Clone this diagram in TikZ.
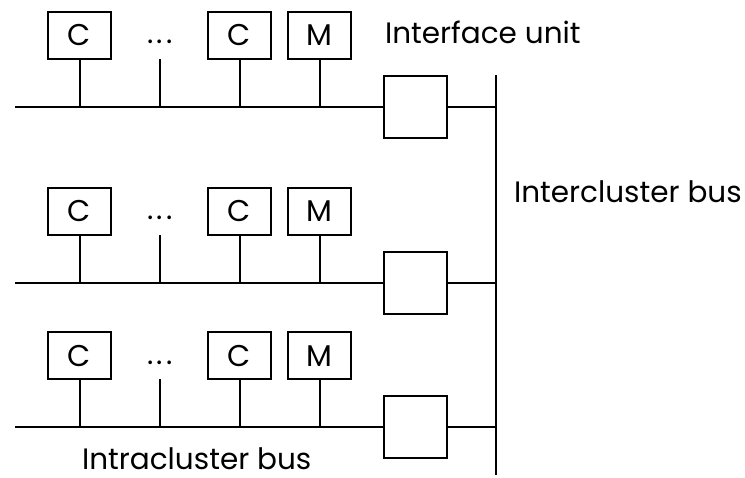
\documentclass[tikz,border=0pt]{standalone}
\usepackage{fontspec}
\setmainfont{Poppins}
\newcommand{\lblfont}{\fontsize{29.5}{29.5}\selectfont}
\newcommand{\boxfont}{\fontsize{30}{30}\selectfont}
\begin{document}
\begin{tikzpicture}[x=1pt,y=-1pt,line width=2pt,
  box/.style={draw,minimum width=63pt,minimum height=47pt,inner sep=0pt,font=\boxfont},
  iface/.style={draw,minimum width=63pt,minimum height=62pt,inner sep=0pt},
  lbl/.style={anchor=base west,inner sep=0pt,font=\lblfont}]
\useasboundingbox (0,0) rectangle (745,478);
\foreach \r/\b in {1/107,2/283,3/427.5} {
  \node[box] (ca\r) at (79.5,\b-71.5) {C};
  \node[box] (cb\r) at (239.5,\b-71.5) {C};
  \node[box] (m\r) at (319.5,\b-71.5) {M};
  \node[inner sep=0pt,font=\boxfont] (dots\r) at (160,\b-65) {.\hspace{3pt}.\hspace{3pt}.};
  \node[iface] (u\r) at (415.5,\b) {};
  \coordinate (bl\r) at (15,\b);
  \coordinate (br\r) at (496,\b);
  \coordinate (ds\r) at (160,\b-48);
  \draw (bl\r) -- (u\r.west);
  \draw (u\r.east) -- (br\r);
  \draw (ca\r.south) -- (ca\r.south |- bl\r);
  \draw (ds\r) -- (ds\r |- bl\r);
  \draw (cb\r.south) -- (cb\r.south |- bl\r);
  \draw (m\r.south) -- (m\r.south |- bl\r);
}
\coordinate (vt) at (496,75);
\coordinate (vb) at (496,475);
\draw (vt) -- (vb);
\node[lbl] (iu) at (384,44) {Interface unit};
\node[lbl] (ic) at (513,203) {Intercluster bus};
\node[lbl] (ib) at (81,469) {Intracluster bus};
\end{tikzpicture}
\end{document}
